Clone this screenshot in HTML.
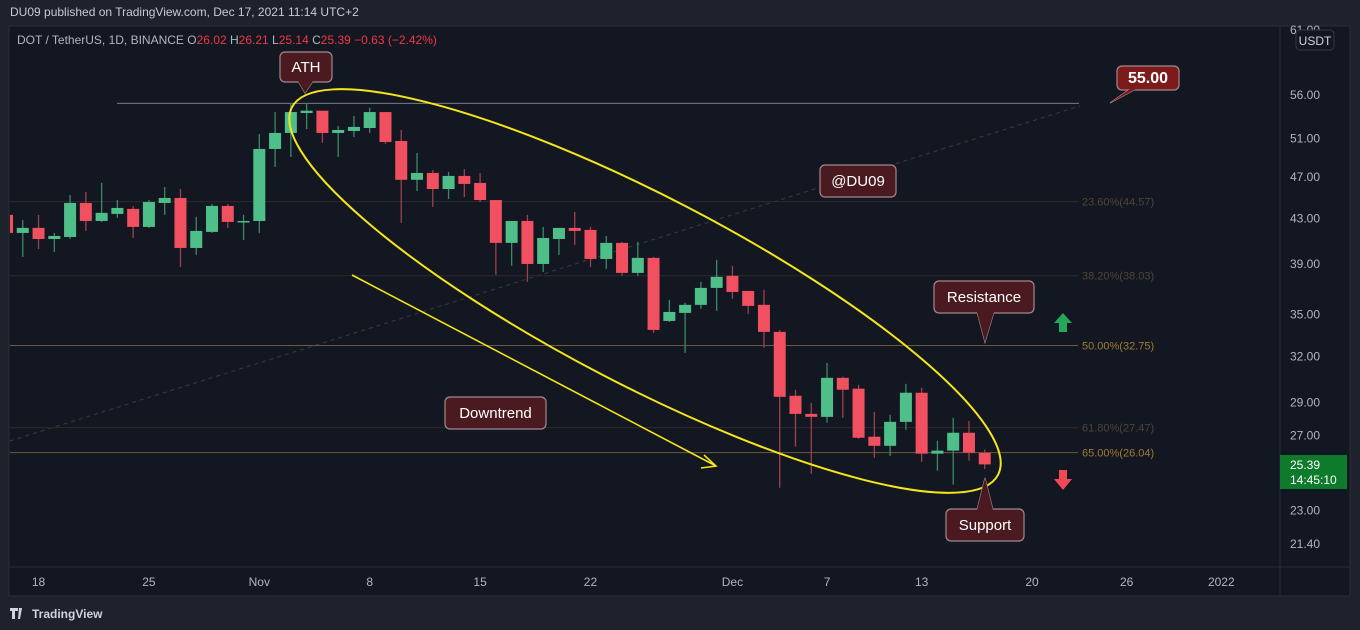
<!DOCTYPE html>
<html><head><meta charset="utf-8"><style>
html,body{margin:0;padding:0;background:#1e222d;width:1360px;height:630px;overflow:hidden;font-family:"Liberation Sans",sans-serif}
svg{display:block}
</style></head><body>
<svg id="chart" width="1360" height="630" xmlns="http://www.w3.org/2000/svg">
<rect x="0" y="0" width="1360" height="630" fill="#1e222d"/>
<text x="10" y="16" fill="#c8cbd3" font-size="12">DU09 published on TradingView.com, Dec 17, 2021 11:14 UTC+2</text>
<rect x="9" y="26" width="1341" height="570" fill="#131722" stroke="#2a2e39"/>
<g id="grid"></g>
<g id="candles"></g>
<g id="overlay"></g>
<line x1="1280" y1="26" x2="1280" y2="596" stroke="#2a2e39"/>
<line x1="9" y1="567" x2="1350" y2="567" stroke="#2a2e39"/>
<g id="yaxis"></g>
<g id="xaxis"></g>
<text x="17" y="44" font-size="12" fill="#b2b5be">DOT / TetherUS, 1D, BINANCE  <tspan fill="#b2b5be">O</tspan><tspan fill="#f23645">26.02</tspan>  <tspan>H</tspan><tspan fill="#f23645">26.21</tspan>  <tspan>L</tspan><tspan fill="#f23645">25.14</tspan>  <tspan>C</tspan><tspan fill="#f23645">25.39</tspan>  <tspan fill="#f23645">−0.63 (−2.42%)</tspan></text>
<rect x="1296" y="30" width="38" height="20" rx="4" fill="#131722" stroke="#363a45"/>
<text x="1315" y="45" font-size="12" fill="#d1d4dc" text-anchor="middle">USDT</text>
<rect x="1280" y="455" width="67" height="34" fill="#0e7a2b"/>
<text x="1290" y="469" font-size="12" fill="#fff">25.39</text>
<text x="1290" y="484" font-size="12" fill="#fff">14:45:10</text>
<g>
<path d="M10 608h8v3h-3v8h-3v-8h-2z M19 608l3 0 -2 11h-2z" fill="#d1d4dc"/>
<text x="32" y="618" font-size="12" font-weight="bold" fill="#d1d4dc">TradingView</text>
</g>
</svg>
<script>
const dates=["Oct16","Oct17","Oct18","Oct19","Oct20","Oct21","Oct22","Oct23","Oct24","Oct25","Oct26","Oct27","Oct28","Oct29","Oct30","Oct31","Nov1","Nov2","Nov3","Nov4","Nov5","Nov6","Nov7","Nov8","Nov9","Nov10","Nov11","Nov12","Nov13","Nov14","Nov15","Nov16","Nov17","Nov18","Nov19","Nov20","Nov21","Nov22","Nov23","Nov24","Nov25","Nov26","Nov27","Nov28","Nov29","Nov30","Dec1","Dec2","Dec3","Dec4","Dec5","Dec6","Dec7","Dec8","Dec9","Dec10","Dec11","Dec12","Dec13","Dec14","Dec15","Dec16","Dec17"];
const opens=[43.32,41.68,42.13,41.14,41.32,44.44,42.76,43.41,43.88,42.22,44.44,44.92,40.36,41.77,44.16,42.67,42.76,49.89,51.63,53.88,54.15,51.63,51.85,52.18,53.99,50.75,46.70,47.39,45.79,47.09,46.39,44.72,40.80,42.76,39.00,41.14,42.13,41.95,39.42,40.80,38.26,39.51,34.52,35.12,35.73,37.05,38.02,36.81,35.73,33.72,29.41,28.29,28.11,30.56,29.86,26.94,26.42,27.81,29.60,25.98,26.15,27.17,26.02];
const highs=[43.78,42.86,43.32,41.68,45.21,45.50,46.39,44.72,44.16,44.72,45.99,45.79,43.14,44.35,44.35,43.32,51.52,53.99,55.05,55.05,53.88,52.41,53.54,54.50,53.99,51.96,49.46,47.69,47.49,47.79,47.39,44.72,42.76,43.32,42.22,42.13,43.60,42.22,41.41,40.88,40.88,39.59,36.11,35.88,37.53,39.34,38.84,36.81,36.89,33.86,29.79,28.96,31.55,30.63,30.11,28.41,28.23,30.17,29.92,26.71,28.05,27.87,26.21];
const lows=[41.23,39.59,40.27,40.02,41.14,41.86,42.67,43.04,41.23,42.13,43.32,38.75,39.76,41.68,42.13,41.05,41.68,48.00,49.04,52.07,50.54,49.04,51.19,51.63,50.43,42.58,45.59,44.06,44.82,45.01,44.53,38.10,38.84,37.53,38.34,39.76,40.62,38.75,38.59,38.02,38.02,33.65,34.44,32.24,35.42,35.27,36.19,35.04,32.60,24.15,26.37,24.88,27.76,28.05,26.82,25.75,25.86,27.34,25.53,25.05,24.31,25.59,25.14];
const closes=[41.68,42.13,41.14,41.41,44.44,42.76,43.51,43.97,42.22,44.53,44.92,40.36,41.86,44.16,42.67,42.76,49.89,51.63,53.99,54.15,51.63,51.96,52.30,53.99,50.64,46.70,47.39,45.79,47.09,46.29,44.72,40.80,42.76,39.00,41.23,42.13,41.86,39.42,40.80,38.26,39.51,33.86,35.19,35.73,37.05,37.94,36.73,35.65,33.72,29.34,28.29,28.11,30.56,29.79,26.88,26.42,27.81,29.60,25.98,26.15,27.17,26.04,25.39];
const priceTicks=[56,51,47,43,39,35,32,29,27,23,21.4];
const timeLabels=["18","25","Nov","8","15","22","Dec","7","13","20","26","2022"];
const timeLabelDays=[2,9,16,23,30,37,46,52,58,65,71,77];
const fibLevels=[44.57,38.03,32.75,27.47,26.04];
const fibPcts=["23.60%","38.20%","50.00%","61.80%","65.00%"];
const athLevel=55.00;
const trendStart=[10,26.7];
const trendEnd=[1080,54.7];

const NS="http://www.w3.org/2000/svg";
const y=p=>95+(Math.log(56)-Math.log(p))*467;
const x=i=>7+i*15.77;
function mk(tag,attrs,parent,txt){const e=document.createElementNS(NS,tag);for(const k in attrs)e.setAttribute(k,attrs[k]);if(txt!==undefined)e.textContent=txt;parent.appendChild(e);return e;}
const svg=document.getElementById('chart');
const grid=document.getElementById('grid'),cg=document.getElementById('candles'),ov=document.getElementById('overlay'),ya=document.getElementById('yaxis'),xa=document.getElementById('xaxis');
const clip=mk('clipPath',{id:'cp'},mk('defs',{},svg));mk('rect',{x:10,y:27,width:1270,height:540},clip);
cg.setAttribute('clip-path','url(#cp)');
grid.setAttribute('clip-path','url(#cp)');

let tl=mk('line',{x1:trendStart[0],y1:y(trendStart[1]),x2:trendEnd[0],y2:y(trendEnd[1]),stroke:'#3e3a38','stroke-dasharray':'4 4','stroke-width':1},grid);


fibLevels.forEach((v,i)=>{
  const strong=(i==2||i==4);
  const l=mk('line',{x1:10,y1:y(v),x2:1078,y2:y(v),stroke:strong?'#6b5a3a':'#2e2a26','stroke-width':1},grid);
  
  
  const t=mk('text',{x:1082,y:y(v)+4,'font-size':11,fill:strong?'#a07a30':'#4f4536'},grid,fibPcts[i]+'('+v.toFixed(2)+')');
  
  
});
let al=mk('line',{x1:117,y1:y(athLevel),x2:1079,y2:y(athLevel),stroke:'#787b86','stroke-width':1},grid);



for(let i=0;i<dates.length;i++){
  const up=closes[i]>=opens[i];const col=up?'#4fbf8a':'#f0505f';const wc=up?'#3a8a66':'#a0404a';
  const cx=x(i);
  const w=mk('line',{x1:cx,y1:y(highs[i]),x2:cx,y2:y(lows[i]),stroke:wc,'stroke-width':1.3},cg);
  
  
  const t=Math.min(y(opens[i]),y(closes[i])),h=Math.max(1.5,Math.abs(y(opens[i])-y(closes[i])));
  const b=mk('rect',{x:cx-6,y:t,width:12,height:h,fill:col},cg);
  
  
}
priceTicks.forEach(v=>{const t=mk('text',{x:1290,y:y(v)+4,'font-size':12,fill:'#b2b5be'},ya,v.toFixed(2));

});
let t61=mk('text',{x:1290,y:34,'font-size':12,fill:'#b2b5be'},ya,'61.00');


timeLabels.forEach((s,i)=>{const t=mk('text',{x:x(timeLabelDays[i]),y:586,'font-size':12,fill:'#b2b5be','text-anchor':'middle'},xa,s);

});

let el=mk('ellipse',{cx:645,cy:291,rx:398,ry:94,transform:'rotate(27.5 645 291)',fill:'none',stroke:'#f5e61a','stroke-width':2},ov);


let ar=mk('path',{d:'M352 275 L716 466 M704 455 L716 466 L701 468',fill:'none',stroke:'#f5e61a','stroke-width':1.6},ov);



function callout(name,bx,by,bw,bh,label,ptr,fill,fs){
  const g=mk('g',{},ov);
  
  
  if(ptr)mk('path',{d:ptr,fill:fill,stroke:'#a08a8c','stroke-width':1.2},g);
  mk('rect',{x:bx,y:by,width:bw,height:bh,rx:5,fill:fill,stroke:'#a08a8c','stroke-width':1.2},g);
  if(ptr)mk('path',{d:ptr,fill:fill,stroke:'none'},g);
  mk('text',{x:bx+bw/2,y:by+bh/2+5,'font-size':fs||15,fill:'#fff','text-anchor':'middle','font-weight':fs?'bold':'normal'},g,label);
}
callout('ath-callout',280,52,52,30,'ATH','M298 81 L305 93 L313 81',"#4a1a20");
callout('price-callout-55',1117,66,62,24,'55.00','M1130 89 L1110 103 L1136 89',"#7c1a1c",16);
callout('author-callout',820,165,76,32,'@DU09',null,"#4a1a20");
callout('resistance-callout',934,281,100,32,'Resistance','M977 312 L985 342 L994 312',"#4a1a20");
callout('downtrend-callout',445,397,101,32,'Downtrend',null,"#4a1a20");
callout('support-callout',946,509,78,32,'Support','M977 510 L985 478 L993 510',"#4a1a20");
let ua=mk('path',{d:'M1063 313 L1072 323 L1067 323 L1067 332 L1059 332 L1059 323 L1054 323 Z',fill:'#26a65b'},ov);


let da=mk('path',{d:'M1059 470 L1067 470 L1067 479 L1072 479 L1063 490 L1054 479 L1059 479 Z',fill:'#f04955'},ov);


</script>
</body></html>
